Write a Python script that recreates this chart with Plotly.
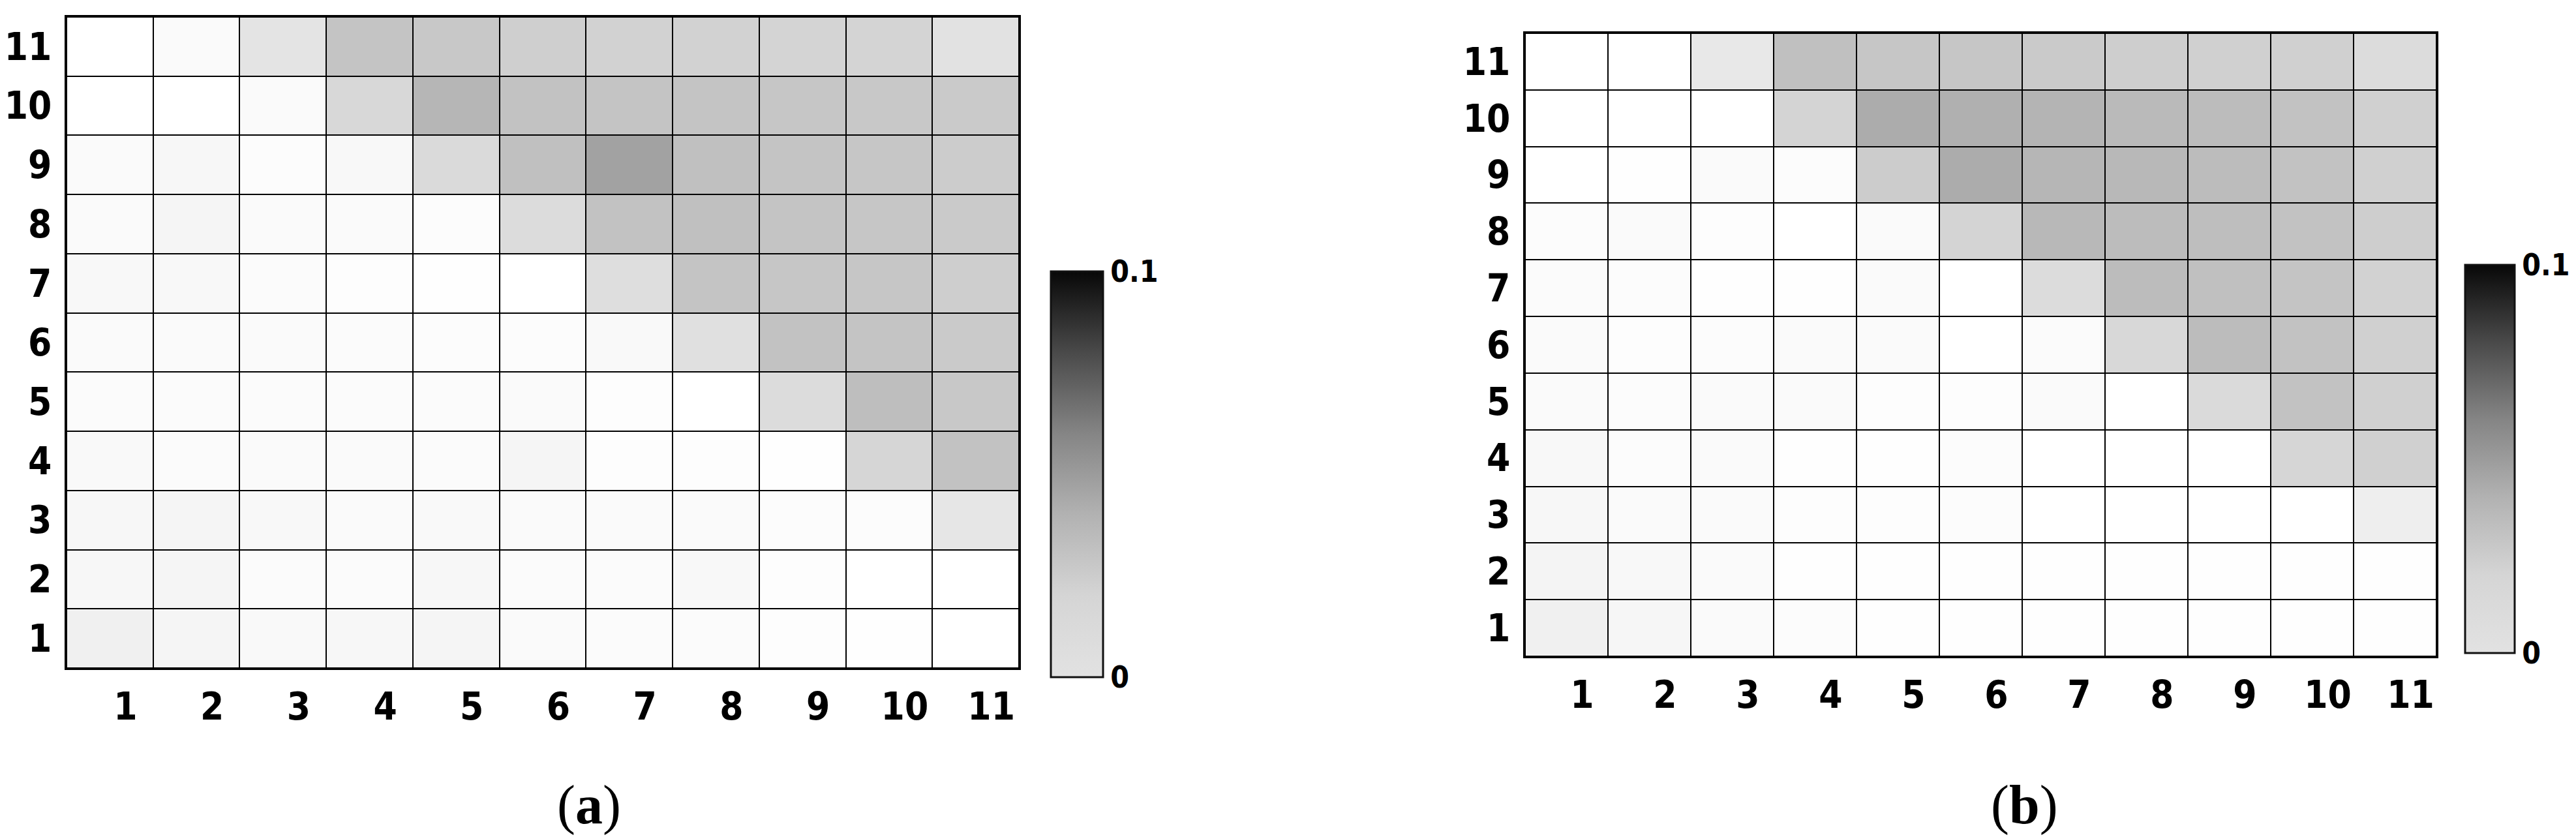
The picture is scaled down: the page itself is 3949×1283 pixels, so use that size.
import plotly.graph_objects as go

ticks = list(range(1, 12))
rows_top_down = list(range(11, 0, -1))

# panel (a), rows listed from 11 (top) down to 1
z_a = [
    [0, .0020, .0106, .0231, .0216, .0188, .0176, .0176, .0169, .0169, .0114],
    [0, 0, .0020, .0153, .0286, .0239, .0231, .0231, .0224, .0216, .0208],
    [.0020, .0031, .0012, .0027, .0145, .0247, .0365, .0247, .0231, .0224, .0200],
    [.0020, .0039, .0020, .0020, .0012, .0137, .0239, .0247, .0231, .0224, .0208],
    [.0027, .0027, .0016, .0008, .0004, 0, .0129, .0231, .0224, .0224, .0192],
    [.0020, .0020, .0020, .0016, .0012, .0012, .0024, .0122, .0239, .0231, .0208],
    [.0016, .0016, .0016, .0016, .0016, .0020, .0008, 0, .0137, .0255, .0216],
    [.0024, .0016, .0020, .0020, .0016, .0039, .0008, .0008, .0004, .0161, .0239],
    [.0031, .0039, .0027, .0020, .0024, .0020, .0020, .0020, .0012, .0012, .0098],
    [.0031, .0039, .0016, .0016, .0031, .0016, .0016, .0027, .0008, 0, 0],
    [.0059, .0039, .0024, .0031, .0039, .0020, .0016, .0016, .0008, .0004, 0],
]

# panel (b)
z_b = [
    [0, 0, .0090, .0247, .0224, .0224, .0208, .0192, .0184, .0184, .0137],
    [0, 0, 0, .0169, .0325, .0310, .0294, .0271, .0263, .0239, .0184],
    [0, .0004, .0020, .0012, .0200, .0325, .0286, .0278, .0263, .0239, .0184],
    [.0012, .0020, .0008, 0, .0020, .0169, .0278, .0263, .0255, .0239, .0192],
    [.0016, .0012, .0004, .0004, .0020, 0, .0137, .0263, .0247, .0231, .0176],
    [.0020, .0008, .0012, .0020, .0020, 0, .0016, .0153, .0263, .0239, .0184],
    [.0020, .0012, .0020, .0020, .0008, .0008, .0020, 0, .0145, .0239, .0184],
    [.0027, .0012, .0020, .0004, .0004, .0012, 0, 0, 0, .0161, .0184],
    [.0031, .0020, .0020, .0008, .0008, .0012, 0, 0, 0, 0, .0067],
    [.0043, .0027, .0020, .0004, .0004, .0004, .0004, .0004, .0004, .0004, .0004],
    [.0059, .0035, .0020, .0012, .0004, .0004, .0004, .0004, .0004, .0004, .0004],
]

cbar_vals = [0, 0.1]
cbar_text = ["0", "0.1"]
captions = ["(<b>a</b>)", "(<b>b</b>)"]

W, H = 3949, 1283
cell_scale = [[0, "#ffffff"], [1, "#000000"]]
bar_scale = [[0, "#e2e2e2"], [0.2, "#d5d5d5"], [0.4, "#b2b2b2"],
             [0.6, "#858585"], [0.8, "#4a4a4a"], [1, "#080808"]]

fig = go.Figure()

panels = [
    # z, xaxis, yaxis, grid px (l, t, r, b), colorbar px (left, top, bottom, thickness)
    (z_a, "x", "y", (94, 18, 1554, 1016), (1603, 408, 1030, 80)),
    (z_b, "x2", "y2", (2330, 43, 3727, 998), (3771, 398, 993, 76)),
]

for z, xa, ya, grid, cb in panels:
    fig.add_trace(go.Heatmap(z=z, x=ticks, y=rows_top_down, xaxis=xa, yaxis=ya,
                             colorscale=cell_scale, zmin=0, zmax=0.1,
                             xgap=2, ygap=2, showscale=False, hoverinfo="skip"))
    cl, ct, cbt, th = cb
    cbar = dict(x=cl / W, xanchor="left", xpad=0,
                y=1 - (ct + cbt) / 2 / H, yanchor="middle", ypad=0,
                len=cbt - ct, lenmode="pixels",
                thickness=th, outlinewidth=3, outlinecolor="#111",
                tickvals=cbar_vals, ticktext=cbar_text, ticks="",
                tickfont=dict(family="DejaVu Sans Condensed, DejaVu Sans", size=46,
                              color="black", weight="bold"))
    fig.add_trace(go.Scatter(x=[None], y=[None], xaxis=xa, yaxis=ya, mode="markers",
                             showlegend=False, hoverinfo="skip",
                             marker=dict(color=[0], cmin=0, cmax=0.1, colorscale=bar_scale,
                                         showscale=True, colorbar=cbar)))

axis_common = dict(range=[0.5, 11.5], tickvals=ticks, showgrid=False, zeroline=False,
                   showline=True, mirror=True, linecolor="black", linewidth=3, ticks="",
                   tickfont=dict(family="DejaVu Sans Condensed, DejaVu Sans", size=58,
                                 color="black", weight="bold"))

for i, (z, xa, ya, grid, cb) in enumerate(panels):
    l, t, r, b = grid
    sfx = "" if i == 0 else "2"
    fig.layout["xaxis" + sfx] = dict(axis_common, domain=[l / W, r / W], anchor="y" + sfx,
                                     ticklabelshift=24, ticklabelstandoff=6)
    fig.layout["yaxis" + sfx] = dict(axis_common, domain=[1 - b / H, 1 - t / H], anchor="x" + sfx,
                                     ticklabelstandoff=8)

for txt, cx in zip(captions, [895, 3095]):
    fig.add_annotation(text=txt, x=cx / W, y=1 - 1226 / H, xref="paper", yref="paper",
                       showarrow=False, xanchor="center", yanchor="middle",
                       font=dict(family="Liberation Serif", size=84, color="black"))

fig.update_layout(width=W, height=H, margin=dict(l=0, r=0, t=0, b=0),
                  paper_bgcolor="white", plot_bgcolor="black", showlegend=False)

fig.write_html("out.html")
